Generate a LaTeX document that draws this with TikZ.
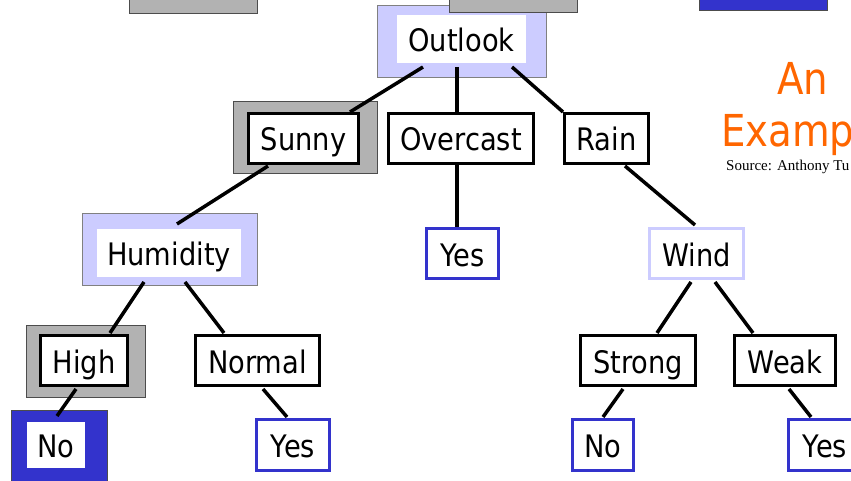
\documentclass[tikz,border=0pt]{standalone}
\usepackage{fontspec}
\setmainfont[FakeStretch=0.88]{DejaVu Sans}
\newfontfamily\srcfont{Liberation Serif}
\usetikzlibrary{calc}
\definecolor{lblue}{HTML}{CCCCFF}
\definecolor{dblue}{HTML}{3333CC}
\definecolor{gframe}{HTML}{B2B2B2}
\definecolor{orng}{HTML}{FF6600}
\begin{document}
\begin{tikzpicture}[x=1pt,y=-1pt,
  sz/.style 2 args={minimum width=#1, minimum height=#2},
  base/.style={rectangle, inner sep=0pt, outer sep=0pt},
  frame/.style={base, draw=black!70, line width=0.8pt},
  grayframe/.style={frame, fill=gframe},
  lbframe/.style={frame, draw=black!50, fill=lblue},
  dbframe/.style={frame, draw=black!70, fill=dblue},
  lbl/.style={base, font=\fontsize{31}{31}\selectfont, text height=28pt, text depth=3pt},
  whitebox/.style={lbl, fill=white},
  blackbox/.style={lbl, fill=white, draw=black, line width=3.4pt},
  bluebox/.style={lbl, fill=white, draw=dblue, line width=3pt},
  windbox/.style={lbl, fill=white, draw=lblue, line width=3pt},
  edge/.style={draw=black, line width=3.5pt},
  title/.style={anchor=base, text=orng, inner sep=0pt, font=\fontsize{44}{44}\selectfont}
]
\useasboundingbox (0,0) rectangle (851,481);
\clip (0,0) rectangle (851,481);
\fill[white] (0,0) rectangle (851,481);

% top fragments
\node[grayframe, sz={128}{36}] (topA) at (193,-5) {};
\node[dbframe, sz={128}{36}] (topC) at (763,-8) {};

% decoration frames
\node[lbframe, sz={169}{72}] (outlookF) at (461.5,41) {};
\node[grayframe, sz={128}{34}] (topB) at (513,-5) {};
\node[grayframe, sz={144}{72}] (sunnyF) at (305,137) {};
\node[lbframe, sz={175}{72}] (humidityF) at (169.5,249) {};
\node[grayframe, sz={119}{72}] (highF) at (85.5,361) {};
\node[dbframe, sz={96}{72}] (noAF) at (59,446) {};

% tree nodes
\node[whitebox, sz={129}{48}] (outlook) at (461.5,39) {Outlook};
\node[blackbox, sz={109.6}{49.6}] (sunny) at (303.5,138.5) {Sunny};
\node[blackbox, sz={144.6}{49.6}] (overcast) at (461,138.5) {Overcast};
\node[blackbox, sz={83.6}{49.6}] (rain) at (606.5,138.5) {Rain};
\node[whitebox, sz={144}{48}] (humidity) at (169,253) {Humidity};
\node[bluebox, sz={72}{50}] (yesA) at (462.5,253.5) {Yes};
\node[windbox, sz={94}{50}] (wind) at (696.5,253.5) {Wind};
\node[blackbox, sz={86.6}{49.6}] (high) at (84,360.5) {High};
\node[blackbox, sz={123.6}{49.6}] (normal) at (257.5,360.5) {Normal};
\node[blackbox, sz={114.6}{49.6}] (strong) at (638,360.5) {Strong};
\node[blackbox, sz={100.6}{49.6}] (weak) at (785,360.5) {Weak};
\node[whitebox, sz={58}{46}] (noA) at (56,445) {No};
\node[bluebox, sz={73}{51}] (yesB) at (293,445) {Yes};
\node[bluebox, sz={61}{51}] (noB) at (603,445) {No};
\node[bluebox, sz={73}{51}] (yesC) at (825,445) {Yes};

% connectors
\draw[edge] ($(outlook)+(-38.5,28)$) -- ($(sunny)+(46.5,-26.5)$);
\draw[edge] ($(outlook)+(-4.5,28)$) -- ($(overcast)+(-4,-26.5)$);
\draw[edge] ($(outlook)+(50.5,28)$) -- ($(rain)+(-43.5,-26.5)$);
\draw[edge] ($(sunny)+(-35.5,27.5)$) -- ($(humidity)+(8,-29)$);
\draw[edge] ($(overcast)+(-4,26.5)$) -- ($(yesA)+(-5.5,-26.5)$);
\draw[edge] ($(rain)+(18.5,27.5)$) -- ($(wind)+(-1.5,-28.5)$);
\draw[edge] ($(humidity)+(-25,29)$) -- ($(high)+(26,-27.5)$);
\draw[edge] ($(humidity)+(16,29)$) -- ($(normal)+(-33.5,-27.5)$);
\draw[edge] ($(high)+(-8,28.5)$) -- ($(noA)+(1,-29)$);
\draw[edge] ($(normal)+(5.5,28.5)$) -- ($(yesB)+(-6,-28)$);
\draw[edge] ($(wind)+(-5.5,28.5)$) -- ($(strong)+(19,-27.5)$);
\draw[edge] ($(wind)+(18.5,28.5)$) -- ($(weak)+(-32,-27.5)$);
\draw[edge] ($(strong)+(-15,28.5)$) -- ($(noB)+(0,-28)$);
\draw[edge] ($(weak)+(4,28.5)$) -- ($(yesC)+(-14,-28)$);

% title
\node[title] (titleA) at (803,95) {An};
\node[title] (titleB) at (805,147) {Example};
\node[anchor=base west, inner sep=0pt, font=\srcfont\fontsize{15}{15}\selectfont] (source) at (726,171) {Source: Anthony Tu};
\end{tikzpicture}
\end{document}
